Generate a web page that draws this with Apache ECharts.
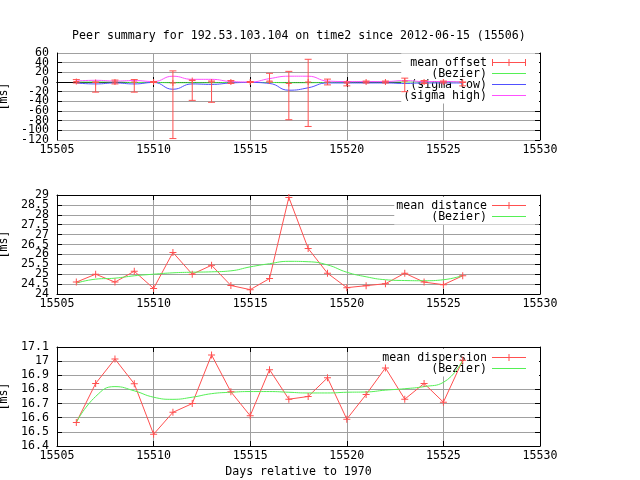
<!DOCTYPE html>
<html><head><meta charset="utf-8">
<script src="https://cdn.jsdelivr.net/npm/echarts@6/dist/echarts.min.js"></script>
<style>html,body{margin:0;padding:0;background:#fff}#c{width:640px;height:480px}</style>
</head><body><div id="c"></div>
<script>
const days = [15506,15507,15508,15509,15510,15511,15512,15513,15514,15515,15516,15517,15518,15519,15520,15521,15522,15523,15524,15525,15526];
const offsetMean = [1,-1,0,0,0,-2,3,0,0,0,2,-3,0,0,-2,0,0,2,0,0,-1];
const offsetLow  = [-2,-21,-4,-21,-1,-117,-38,-42,-3,-1,0,-78,-92,-6,-8,-2,-2,-20,-3,-2,-8];
const offsetHigh = [5,0,4,5,1,23,4,2,3,1,18,22,47,6,0,2,2,8,3,2,0];
const offsetBezier = [0,0,0,-1,-1,-1.5,-1.5,-1.5,-1,-1,-1,-1.5,-1.5,-1,-0.5,0,0,0,0,0,0];
const sigmaLow  = [-2,-4,-2,-4,-1,-15,-4,-5,-2,-1,-3,-17,-12,-2,-2,-2,-2,-3,-2,-2,-2];
const sigmaHigh = [2,3.5,2,3,1,12,5.5,5.5,1,0,7,12,12,2,1,1,1,3,1,1,0];
const distance = [24.6,25.0,24.6,25.15,24.28,26.1,25.0,25.45,24.43,24.22,24.78,28.88,26.3,25.05,24.32,24.42,24.52,25.05,24.6,24.47,24.92];
const distanceBezier = [24.55,24.75,24.8,24.92,25.0,25.07,25.1,25.12,25.17,25.37,25.53,25.65,25.63,25.47,25.1,24.87,24.72,24.68,24.67,24.72,24.93];
const dispersion = [16.567,16.842,17.015,16.84,16.483,16.638,16.70,17.044,16.783,16.614,16.94,16.731,16.75,16.882,16.59,16.764,16.952,16.731,16.842,16.71,17.006];
const dispersionBezier = [16.567,16.75,16.82,16.79,16.745,16.73,16.745,16.77,16.78,16.785,16.785,16.78,16.775,16.775,16.78,16.782,16.795,16.805,16.82,16.85,17.006];
const xTicks = {min:15505, max:15530, interval:5};
const yTicks = [
  {min:-120, max:60, interval:20},
  {min:24, max:29, interval:0.5},
  {min:16.4, max:17.1, interval:0.1}
];
const titleText = 'Peer summary for 192.53.103.104 on time2 since 2012-06-15 (15506)';

const FONT = 'DejaVu Sans Mono';
const FS = 11.6;
const RED='#ff5050', GREEN='#55f055', BLUE='#5050ff', MAG='#ff50ff', GRID='#a0a0a0';
const plusPath = 'path://M3,0L4,0L4,3L7,3L7,4L4,4L4,7L3,7L3,4L0,4L0,3L3,3Z';
const errIcon = 'path://M0,0L1,0L1,3L16.5,3L16.5,0L17.5,0L17.5,3L33,3L33,0L34,0L34,7L33,7L33,4L17.5,4L17.5,7L16.5,7L16.5,4L1,4L1,7L0,7Z';
const lineIcon = 'path://M0,0L0.01,0L0.01,3L34,3L34,4L0.01,4L0.01,7L0,7Z';
const ptIcon = 'path://M0,0L0.01,0L0.01,3L16.5,3L16.5,0L17.5,0L17.5,3L34,3L34,4L17.5,4L17.5,7L16.5,7L16.5,4L0.01,4L0.01,7L0,7Z';

const fmt = v => String(Math.round(v*10)/10);
const tops = [53,195,347], heights=[87,99,99];
const grids = tops.map((t,i)=>({left:57, top:t, width:483, height:heights[i], containLabel:false, outerBoundsMode:'none'}));
const xAxis=[], yAxis=[];
for (let i=0;i<3;i++){
  const yt = yTicks[i];
  xAxis.push({type:'value', gridIndex:i, min:xTicks.min, max:xTicks.max, interval:xTicks.interval,
    axisLine:{show:true,lineStyle:{color:'#000',width:1}},
    axisTick:{show:true,inside:true,length:5,lineStyle:{color:'#000'}},
    axisLabel:{show:true,margin:4,color:'#000',fontFamily:FONT,fontSize:FS,showMinLabel:true,showMaxLabel:true,
      formatter:v=>String(v)},
    splitLine:{show:true,lineStyle:{color:GRID,width:1}},
    name: i===2?'Days relative to 1970':'', nameLocation:'middle', nameGap:20,
    nameTextStyle:{color:'#000',fontFamily:FONT,fontSize:FS}});
  xAxis.push({type:'value', gridIndex:i, position:'top', min:xTicks.min, max:xTicks.max, interval:xTicks.interval,
    axisLine:{show:true,lineStyle:{color:'#000'}},
    axisTick:{show:true,inside:true,length:5,lineStyle:{color:'#000'}},
    axisLabel:{show:false}, splitLine:{show:false}});
  yAxis.push({type:'value', gridIndex:i, min:yt.min, max:yt.max, interval:yt.interval,
    axisLine:{show:true,lineStyle:{color:'#000'}},
    axisTick:{show:true,inside:true,length:5,lineStyle:{color:'#000'}},
    axisLabel:{show:true,margin:8,color:'#000',fontFamily:FONT,fontSize:FS,showMinLabel:false,showMaxLabel:false,
      formatter:fmt},
    splitLine:{show:true,lineStyle:{color:GRID,width:1}},
    name:'[ms]', nameLocation:'middle', nameGap:43, nameRotate:90,
    nameTextStyle:{color:'#000',fontFamily:FONT,fontSize:FS}});
  yAxis.push({type:'value', gridIndex:i, position:'right', min:yt.min, max:yt.max, interval:yt.interval,
    axisLine:{show:true,lineStyle:{color:'#000'}},
    axisTick:{show:true,inside:true,length:5,lineStyle:{color:'#000'}},
    axisLabel:{show:false}, splitLine:{show:false}});
  yAxis.push({type:'value', gridIndex:i, position:'left', offset:0, min:yt.min, max:yt.max, interval:yt.interval,
    axisLine:{show:false}, axisTick:{show:false}, splitLine:{show:false},
    axisLabel:{show:true,margin:8,color:'#000',fontFamily:FONT,fontSize:FS,showMinLabel:true,showMaxLabel:true,
      formatter:v=>(Math.abs(v-yt.min)<1e-6||Math.abs(v-yt.max)<1e-6)?fmt(v):''}});
}
const zip = (a,b)=>a.map((v,i)=>[v,b[i]]);
function lineSeries(name, gi, vals, color, opts){
  return Object.assign({type:'line', name, xAxisIndex:gi*2, yAxisIndex:gi*3, data:zip(days,vals),
    z:5, symbol:'none', lineStyle:{color, width:1}, itemStyle:{color}, animation:false, silent:true}, opts||{});
}
const series = [
  {type:'custom', name:'mean offset', xAxisIndex:0, yAxisIndex:0, z:6, animation:false, silent:true,
   itemStyle:{color:RED},
   data: days.map((d,i)=>[d, offsetMean[i], offsetLow[i], offsetHigh[i]]),
   encode:{x:0, y:[1,2,3]},
   renderItem:function(params, api){
     const x=api.value(0);
     const m=api.coord([x, api.value(1)]);
     const lo=api.coord([x, api.value(2)]);
     const hi=api.coord([x, api.value(3)]);
     const st={stroke:RED, lineWidth:1};
     const c=3.5, p=3;
     return {type:'group', children:[
       {type:'line', shape:{x1:lo[0],y1:lo[1],x2:hi[0],y2:hi[1]}, style:st},
       {type:'line', shape:{x1:lo[0]-c,y1:lo[1],x2:lo[0]+c,y2:lo[1]}, style:st},
       {type:'line', shape:{x1:hi[0]-c,y1:hi[1],x2:hi[0]+c,y2:hi[1]}, style:st},
       {type:'line', shape:{x1:m[0]-p,y1:m[1],x2:m[0]+p,y2:m[1]}, style:st},
       {type:'line', shape:{x1:m[0],y1:m[1]-p,x2:m[0],y2:m[1]+p}, style:st}
     ]};
   }},
  lineSeries('(Bezier)', 0, offsetBezier, GREEN, {smooth:true}),
  lineSeries('(sigma low)', 0, sigmaLow, BLUE, {smooth:true}),
  lineSeries('(sigma high)', 0, sigmaHigh, MAG, {smooth:true}),
  lineSeries('mean distance', 1, distance, RED, {symbol:plusPath, symbolSize:7, showSymbol:true}),
  lineSeries('(Bezier) ', 1, distanceBezier, GREEN, {smooth:true}),
  lineSeries('mean dispersion', 2, dispersion, RED, {symbol:plusPath, symbolSize:7, showSymbol:true}),
  lineSeries('(Bezier)  ', 2, dispersionBezier, GREEN, {smooth:true})
];
function legend(items, top){
  return {orient:'vertical', right:101, top, align:'right', padding:[3,13,2,2], itemGap:-1,
    itemWidth:34, itemHeight:7, backgroundColor:'#fff', selectedMode:false, z:4,
    textStyle:{color:'#000', fontFamily:FONT, fontSize:FS, lineHeight:11},
    formatter: n=>n.trim(),
    data: items.map(([n,icon,color])=>({name:n, icon, itemStyle:{color, borderWidth:0}}))};
}
const option = {
  backgroundColor:'#fff', animation:false,
  title:{text:titleText, left:72, top:30, padding:0,
    textStyle:{color:'#000', fontFamily:FONT, fontSize:FS, fontWeight:'normal'}},
  grid: grids, xAxis, yAxis, series,
  legend:[
    legend([['mean offset',errIcon,RED],['(Bezier)',lineIcon,GREEN],['(sigma low)',lineIcon,BLUE],['(sigma high)',lineIcon,MAG]], 53.5),
    legend([['mean distance',ptIcon,RED],['(Bezier) ',lineIcon,GREEN]], 196.5),
    legend([['mean dispersion',ptIcon,RED],['(Bezier)  ',lineIcon,GREEN]], 348.5)
  ]
};
const chart = echarts.init(document.getElementById('c'), null, {renderer:'canvas'});
chart.setOption(option);
</script></body></html>
